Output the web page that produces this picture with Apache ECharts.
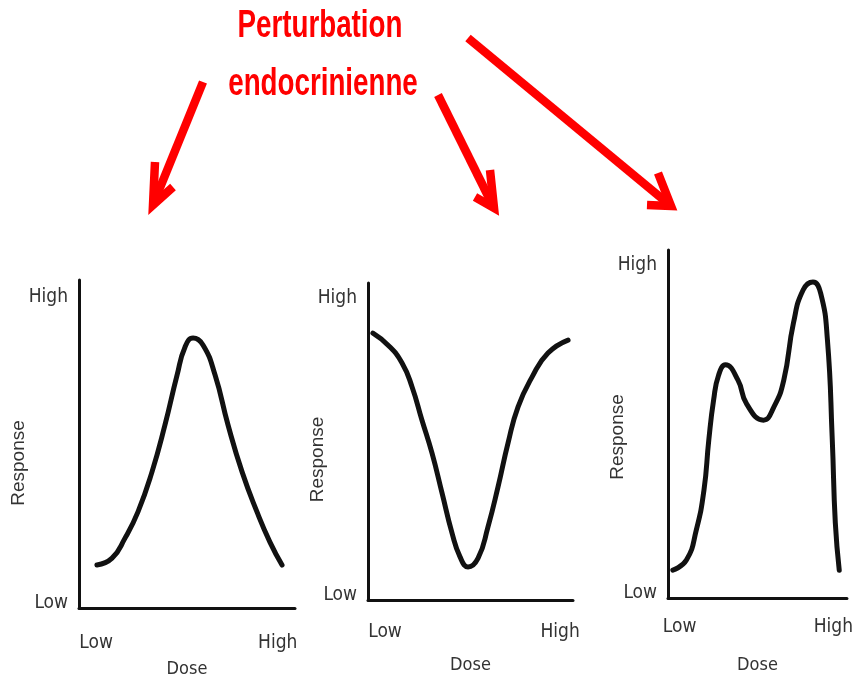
<!DOCTYPE html>
<html>
<head>
<meta charset="utf-8">
<title>Perturbation endocrinienne</title>
<script src="https://cdn.jsdelivr.net/npm/echarts@6/dist/echarts.min.js"></script>
<style>
  html, body { margin: 0; padding: 0; background: #ffffff; }
  #chart { width: 856px; height: 688px; }
</style>
</head>
<body>
<div id="chart"></div>
<script>
// Axis tick labels (qualitative scales)
const doseLabels = ['Low', 'High'];
const responseLabels = ['Low', 'High'];

// Where the Low / High labels sit on each panel's 0-100 scale
const doseTickValues = [[7.9, 92.0], [8.3, 93.7], [6.5, 92.4]];
const responseTickValues = [[1.5, 94.8], [1.6, 95.3], [1.4, 95.7]];

// Dose-response curves: [dose, response] on a 0-100 scale
const curveBell = [
  [8.3, 13.1], [15.3, 15.2], [21.3, 21.3], [27.3, 29.3], [33.8, 41.5],
  [39.8, 55.8], [45.4, 71.0], [49.1, 79.6], [52.8, 82.3], [57.4, 80.2],
  [63.0, 71.0], [69.0, 55.8], [75.5, 41.5], [82.4, 29.3], [88.4, 20.1],
  [94.0, 13.1]
];
const curveValley = [
  [2.4, 84.2], [9.8, 80.4], [16.6, 74.8], [21.5, 67.2], [26.3, 56.8],
  [31.2, 46.4], [36.1, 33.8], [41.0, 21.1], [44.9, 13.6], [48.8, 10.4],
  [53.7, 13.2], [58.5, 23.0], [63.4, 35.6], [68.3, 49.5], [73.2, 60.9],
  [80.0, 70.3], [87.8, 77.9], [97.6, 82.0]
];
const curveBiphasic = [
  [2.7, 8.0], [10.3, 10.9], [15.8, 19.5], [20.1, 31.0], [22.8, 45.4],
  [25.5, 56.9], [28.3, 64.1], [32.1, 67.0], [39.1, 62.6], [44.0, 55.7],
  [53.3, 51.1], [59.2, 54.9], [64.7, 62.6], [70.1, 79.0], [75.5, 88.5],
  [81.0, 90.8], [85.3, 87.6], [89.1, 74.1], [91.8, 45.4], [93.5, 21.6],
  [95.7, 8.0]
];
const curves = [curveBell, curveValley, curveBiphasic];

const titleLines = ['Perturbation', 'endocrinienne'];
const doseName = 'Dose';
const responseName = 'Response';

const NARROW = '"Liberation Sans Narrow", "DejaVu Sans Condensed", "Liberation Sans", sans-serif';
const LABEL_COLOR = '#333333';

// Panel frames in pixels
const panels = [
  { left: 79,  top: 280, width: 216, height: 328, doseGap: 52, respGap: 51, respShift: 38, labelMargin: 26 },
  { left: 368, top: 283, width: 205, height: 317, doseGap: 56, respGap: 41, respShift: 36, labelMargin: 23 },
  { left: 668, top: 250, width: 184, height: 348, doseGap: 58, respGap: 41, respShift: 26, labelMargin: 20 }
];

function labelFor(values, names) {
  return function (v) {
    let best = 0;
    for (let i = 1; i < values.length; i++) {
      if (Math.abs(values[i] - v) < Math.abs(values[best] - v)) best = i;
    }
    return names[best];
  };
}

const axisLine = { show: true, lineStyle: { color: '#111111', width: 3 } };

const grid = panels.map(p => ({ left: p.left, top: p.top, width: p.width, height: p.height }));

const xAxis = panels.map((p, i) => ({
  type: 'value', gridIndex: i, min: 0, max: 100,
  axisLine: axisLine,
  axisTick: { show: false },
  splitLine: { show: false },
  axisLabel: {
    customValues: doseTickValues[i],
    formatter: labelFor(doseTickValues[i], doseLabels),
    margin: p.labelMargin,
    fontFamily: NARROW, fontSize: 19, color: LABEL_COLOR
  },
  name: doseName, nameLocation: 'middle', nameGap: p.doseGap, nameMoveOverlap: false,
  nameTextStyle: { fontFamily: NARROW, fontSize: 18, color: LABEL_COLOR }
}));

const yAxis = panels.map((p, i) => ({
  type: 'value', gridIndex: i, min: 0, max: 100,
  axisLine: axisLine,
  axisTick: { show: false },
  splitLine: { show: false },
  axisLabel: {
    customValues: responseTickValues[i],
    formatter: labelFor(responseTickValues[i], responseLabels),
    margin: 11,
    fontFamily: NARROW, fontSize: 19, color: LABEL_COLOR
  },
  name: responseName, nameLocation: 'middle', nameRotate: 90, nameGap: p.respGap,
  nameMoveOverlap: false,
  nameTextStyle: {
    fontFamily: '"Liberation Sans", Arial, sans-serif', fontSize: 19, color: LABEL_COLOR,
    padding: [0, p.respShift, 0, 0]
  }
}));

const series = curves.map((data, i) => ({
  type: 'line', xAxisIndex: i, yAxisIndex: i,
  data: data, smooth: 0.5,
  symbol: 'none', silent: true,
  lineStyle: { color: '#111111', width: 5, cap: 'round', join: 'round' }
}));

// Red arrows from the heading down to each panel
const RED = '#ff0000';
function arrow(from, tip, wingA, wingB) {
  return {
    type: 'group', silent: true,
    children: [
      { type: 'line', shape: { x1: from[0], y1: from[1], x2: tip[0], y2: tip[1] },
        style: { stroke: RED, lineWidth: 8.5 } },
      { type: 'polyline', shape: { points: [wingA, tip, wingB] },
        style: { stroke: RED, lineWidth: 8.5, fill: null, lineJoin: 'miter' } }
    ]
  };
}

// Heading set in a horizontally condensed bold face
const TITLE_FONT = 'bold 38px "Liberation Sans", Arial, sans-serif';
const graphic = [
  { type: 'text', silent: true, x: 320, y: 27, scaleX: 0.73,
    style: { text: titleLines[0], x: 0, y: 0, align: 'center', verticalAlign: 'middle',
             font: TITLE_FONT, fill: RED } },
  { type: 'text', silent: true, x: 323, y: 85, scaleX: 0.73,
    style: { text: titleLines[1], x: 0, y: 0, align: 'center', verticalAlign: 'middle',
             font: TITLE_FONT, fill: RED } },
  arrow([203, 82], [153, 205], [155, 162], [173, 187]),
  arrow([438, 95], [494, 208], [490, 170], [475, 197]),
  arrow([468, 38], [671, 206], [658, 173], [647, 205])
];

const chart = echarts.init(document.getElementById('chart'), null, { renderer: 'canvas' });
chart.setOption({
  backgroundColor: '#ffffff',
  animation: false,
  grid: grid,
  xAxis: xAxis,
  yAxis: yAxis,
  series: series,
  graphic: graphic
});
</script>
</body>
</html>
